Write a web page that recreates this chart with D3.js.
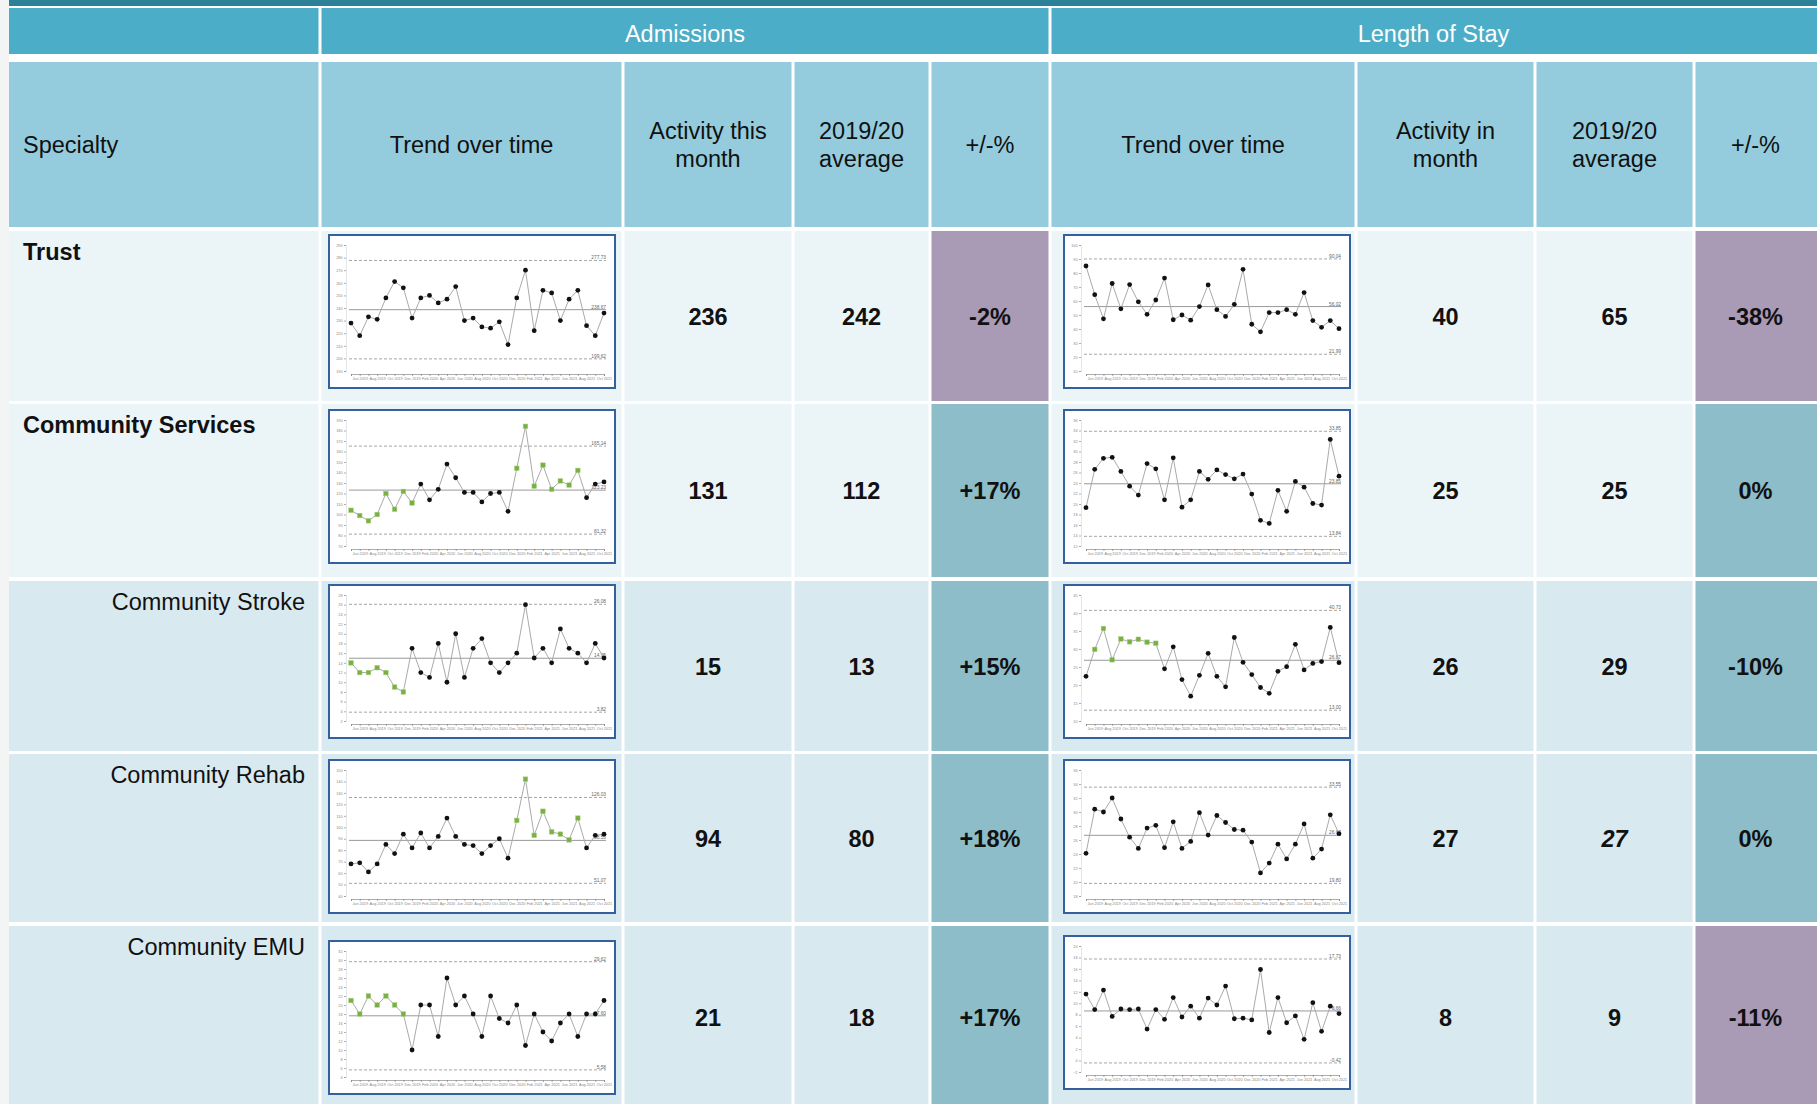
<!DOCTYPE html>
<html><head><meta charset="utf-8">
<script src="https://cdn.jsdelivr.net/npm/d3@7"></script>
<style>
html,body{margin:0;padding:0;background:#fff;}
svg{display:block;font-family:"Liberation Sans",Arial,sans-serif;}
</style></head>
<body>
<svg id="chart" width="1817" height="1104"></svg>
<script>
// ---------- DATA ----------
const months = ["May 2019","Jun 2019","Jul 2019","Aug 2019","Sep 2019","Oct 2019","Nov 2019","Dec 2019",
  "Jan 2020","Feb 2020","Mar 2020","Apr 2020","May 2020","Jun 2020","Jul 2020","Aug 2020","Sep 2020","Oct 2020",
  "Nov 2020","Dec 2020","Jan 2021","Feb 2021","Mar 2021","Apr 2021","May 2021","Jun 2021","Jul 2021","Aug 2021","Sep 2021","Oct 2021"];

const specialties = ["Trust","Community Services","Community Stroke","Community Rehab","Community EMU"];
const specialtyLevel = [0,0,1,1,1];

const admActivity = [236,131,15,94,21];
const admAverage  = [242,112,13,80,18];
const admChange   = ["-2%","+17%","+15%","+18%","+17%"];
const admStatus   = ["concern","improve","improve","improve","improve"];

const losActivity = [40,25,26,27,8];
const losAverage  = [65,25,29,27,9];
const losAverageItalic = [false,false,false,true,false];
const losChange   = ["-38%","0%","-10%","0%","-11%"];
const losStatus   = ["concern","improve","improve","improve","concern"];

// Admissions series
const trustAdm  = [228,218,233,231,248,261,256,232,248,250,244,247,257,230,232,225,224,229,211,248,270,222,254,252,230,247,254,226,218,236];
const csAdm     = [104,99,94,100,120,105,122,111,129,114,124,148,135,121,121,112,120,121,103,144,184,127,147,124,132,128,142,116,129,131];
const strokeAdm = [14,12,12,13,12,9,8,17,12,11,18,10,20,11,17,19,14,12,14,16,26,15,17,14,21,17,16,14,18,15];
const rehabAdm  = [68,69,61,68,85,77,94,82,95,82,92,108,92,85,84,77,84,90,73,106,142,93,114,96,94,89,108,82,93,94];
const emuAdm    = [21,18,22,20,22,20,18,10,20,20,13,26,20,22,18,13,22,17,16,20,11,18,14,12,16,18,13,18,18,21];

// Length of stay series
const trustLos  = [85,64.5,47.3,72.5,54.4,71.7,59.4,50.5,60.7,76.4,46.6,50,46.3,56,71.5,53.8,49,57.6,82.6,43.4,38,51.7,51.7,53.8,50.5,66,46,41.2,46,40.2];
const csLos     = [19.3,26.6,28.7,28.9,26.2,23.4,21.7,27.7,26.7,20.8,28.8,19.4,20.8,26.2,24.7,26.5,25.6,24.8,25.7,21.9,16.9,16.3,22.6,18.6,24.3,23.2,20.1,19.8,32.3,25.3];
const strokeLos = [22.4,29.9,35.7,27,32.8,32,32.7,31.9,31.6,24.5,30.6,21.5,16.9,22.7,28.8,22.4,19.5,33.2,26.3,22.9,19.3,17.7,23.8,25.1,31.3,24.2,26,26.5,36,26.2];
const rehabLos  = [24.1,30.4,30,32,29,26.4,24.8,27.7,28.1,24.9,28.6,24.8,25.8,29.9,26.7,29.5,28.5,27.5,27.4,25.7,21.3,22.7,25.4,23.3,25.4,28.3,23.4,24.7,29.6,26.9];
const emuLos    = [11.6,8.9,12.3,7.7,9,8.9,9,5.5,8.9,7.2,11,7.6,9.5,7.4,10.9,9.7,13,7.3,7.4,7.1,15.9,4.9,11,6.6,7.8,3.7,10.1,5.1,9.5,8.2];

// Special-cause (green) point indices
const trustAdmSpecial  = [];
const csAdmSpecial     = [0,1,2,3,4,5,6,7,19,20,21,22,23,24,25,26];
const strokeAdmSpecial = [0,1,2,3,4,5,6];
const rehabAdmSpecial  = [19,20,21,22,23,24,25,26];
const emuAdmSpecial    = [0,1,2,3,4,5,6];
const trustLosSpecial  = [];
const csLosSpecial     = [];
const strokeLosSpecial = [1,2,3,4,5,6,7,8];
const rehabLosSpecial  = [];
const emuLosSpecial    = [];

// Control limits [UCL, mean, LCL]
const trustAdmLimits  = [277.73,238.67,199.62];
const csAdmLimits     = [165.14,123.23,81.32];
const strokeAdmLimits = [26.08,14.95,3.82];
const rehabAdmLimits  = [126.03,88.55,51.07];
const emuAdmLimits    = [29.62,17.60,5.58];
const trustLosLimits  = [90.04,56.02,21.99];
const csLosLimits     = [33.85,23.85,13.84];
const strokeLosLimits = [40.73,26.87,13.00];
const rehabLosLimits  = [33.55,26.67,19.80];
const emuLosLimits    = [17.73,8.66,-0.42];

// Y axis tick labels [min, max, step]
const trustAdmTicks  = [190,290,10];
const csAdmTicks     = [70,190,10];
const strokeAdmTicks = [2,28,2];
const rehabAdmTicks  = [40,150,10];
const emuAdmTicks    = [4,32,2];
const trustLosTicks  = [10,100,10];
const csLosTicks     = [12,36,2];
const strokeLosTicks = [10,45,5];
const rehabLosTicks  = [18,36,2];
const emuLosTicks    = [-2,20,2];

const admSeries = [
  {values:trustAdm, special:trustAdmSpecial, limits:trustAdmLimits, ticks:trustAdmTicks},
  {values:csAdm, special:csAdmSpecial, limits:csAdmLimits, ticks:csAdmTicks},
  {values:strokeAdm, special:strokeAdmSpecial, limits:strokeAdmLimits, ticks:strokeAdmTicks},
  {values:rehabAdm, special:rehabAdmSpecial, limits:rehabAdmLimits, ticks:rehabAdmTicks},
  {values:emuAdm, special:emuAdmSpecial, limits:emuAdmLimits, ticks:emuAdmTicks}];
const losSeries = [
  {values:trustLos, special:trustLosSpecial, limits:trustLosLimits, ticks:trustLosTicks},
  {values:csLos, special:csLosSpecial, limits:csLosLimits, ticks:csLosTicks},
  {values:strokeLos, special:strokeLosSpecial, limits:strokeLosLimits, ticks:strokeLosTicks},
  {values:rehabLos, special:rehabLosSpecial, limits:rehabLosLimits, ticks:rehabLosTicks},
  {values:emuLos, special:emuLosSpecial, limits:emuLosLimits, ticks:emuLosTicks}];

// ---------- LAYOUT ----------
const svg = d3.select("#chart");
const colEdges = [9,320,623,793,930,1050,1356,1535,1694,1817];
const rows = [[231,401],[404,577],[581,751],[754,922],[926,1110]];
const chartTopOff = [4,6,4,6,15];
const chartTopOffLos = [4,6,4,6,10];
const C = {
  strip:"#2C8199", head1:"#4BADC7", head2:"#94CCDE",
  rowL0:"#EBF4F7", rowL1:"#D9E9F0", concern:"#A99AB6", improve:"#8DBDC8",
  text:"#111111"
};
const FONT = 23.5;

svg.append("rect").attr("x",0).attr("y",0).attr("width",1817).attr("height",1104).attr("fill","#ffffff");
svg.append("rect").attr("x",0).attr("y",0).attr("width",9).attr("height",1104).attr("fill","#F3F4F4");
svg.append("rect").attr("x",9).attr("y",0).attr("width",1808).attr("height",6).attr("fill",C.strip);

const gap = 1.5;
function cell(x0,x1,y0,y1,fill){
  svg.append("rect").attr("x",x0+(x0>9?gap:0)).attr("y",y0)
    .attr("width",x1-x0-(x0>9?gap:0)-(x1<1817?gap:0)).attr("height",y1-y0).attr("fill",fill);
}
// Header row 1
const h1 = [[0,1,""],[1,5,"Admissions"],[5,9,"Length of Stay"]];
h1.forEach(([a,b,t])=>{
  cell(colEdges[a],colEdges[b],8,54,C.head1);
  svg.append("text").attr("x",(colEdges[a]+colEdges[b])/2).attr("y",42)
    .attr("text-anchor","middle").attr("fill","#fff").attr("font-size",FONT).text(t);
});
// Header row 2
const h2 = [["Specialty"],["Trend over time"],["Activity this","month"],["2019/20","average"],["+/-%"],
            ["Trend over time"],["Activity in","month"],["2019/20","average"],["+/-%"]];
h2.forEach((lines,i)=>{
  cell(colEdges[i],colEdges[i+1],62,227,C.head2);
  const cx = i===0 ? colEdges[0]+14 : (colEdges[i]+colEdges[i+1])/2;
  const t = svg.append("text").attr("text-anchor", i===0?"start":"middle")
    .attr("fill",C.text).attr("font-size",FONT);
  lines.forEach((l,k)=>{
    const y = 145 + 8 + (k - (lines.length-1)/2)*28;
    t.append("tspan").attr("x",cx).attr("y",y).text(l);
  });
});

// Data rows
specialties.forEach((name,r)=>{
  const [y0,y1] = rows[r];
  const bg = specialtyLevel[r]===0 ? C.rowL0 : C.rowL1;
  for(let c=0;c<9;c++){
    let fill = bg;
    if(c===4) fill = C[admStatus[r]];
    if(c===8) fill = C[losStatus[r]];
    cell(colEdges[c],colEdges[c+1],y0,y1,fill);
  }
  svg.append("text")
    .attr("x", specialtyLevel[r]===0 ? 23 : 305)
    .attr("y", y0+29)
    .attr("text-anchor", specialtyLevel[r]===0 ? "start":"end")
    .attr("font-weight", specialtyLevel[r]===0 ? "bold":"normal")
    .attr("font-size",FONT).attr("fill",C.text).text(name);
  const cy = (y0 + Math.min(y1,1108))/2 + 8.5;
  const vals = [[2,admActivity[r],false],[3,admAverage[r],false],[4,admChange[r],false],
                [6,losActivity[r],false],[7,losAverage[r],losAverageItalic[r]],[8,losChange[r],false]];
  vals.forEach(([c,v,it])=>{
    svg.append("text").attr("x",(colEdges[c]+colEdges[c+1])/2).attr("y",cy)
      .attr("text-anchor","middle").attr("font-weight","bold").attr("font-size",FONT)
      .attr("font-style", it?"italic":"normal").attr("fill",C.text).text(v);
  });
  drawChart(colEdges[1]+9, y0+chartTopOff[r], admSeries[r]);
  drawChart(colEdges[5]+14, y0+chartTopOffLos[r], losSeries[r]);
});

function drawChart(bx,by,s){
  const W=286,H=153;
  const g = svg.append("g").attr("transform",`translate(${bx},${by})`);
  g.append("rect").attr("x",0).attr("y",0).attr("width",W).attr("height",H)
    .attr("fill","#fff").attr("stroke","#35609E").attr("stroke-width",2);
  const [tmin,tmax,tstep] = s.ticks;
  const x = d3.scalePoint().domain(months).range([22,275]);
  const y = d3.scaleLinear().domain([tmin,tmax]).range([136,10]);
  const tickVals = d3.range(tmin, tmax+tstep/2, tstep);
  const ya = g.append("g").attr("transform","translate(17,0)")
    .call(d3.axisLeft(y).tickValues(tickVals).tickSize(2).tickPadding(1.5));
  ya.select(".domain").attr("stroke","#ccc").attr("stroke-width",0.5);
  ya.selectAll(".tick line").attr("stroke","#777").attr("stroke-width",0.6);
  ya.selectAll("text").attr("font-size",3.8).attr("fill","#888").attr("font-family","Liberation Sans, Arial");
  const xa = g.append("g").attr("transform","translate(0,139)")
    .call(d3.axisBottom(x).tickSize(2).tickPadding(1.5).tickFormat((d,i)=> i%2===1 ? d : ""));
  xa.select(".domain").attr("stroke","#777").attr("stroke-width",0.6);
  xa.selectAll(".tick line").attr("stroke","#777").attr("stroke-width",0.6);
  xa.selectAll("text").attr("font-size",3.8).attr("fill","#888").attr("font-family","Liberation Sans, Arial");
  const [ucl,mean,lcl] = s.limits;
  [[ucl,"3,2"],[lcl,"3,2"],[mean,null]].forEach(([v,dash])=>{
    g.append("line").attr("x1",20).attr("x2",277).attr("y1",y(v)).attr("y2",y(v))
      .attr("stroke", dash?"#a6a6a6":"#999").attr("stroke-width", 1)
      .attr("stroke-dasharray", dash);
    g.append("text").attr("x",277).attr("y",y(v)-1).attr("text-anchor","end")
      .attr("font-size",4.8).attr("fill","#666").text(v.toFixed(2));
  });
  g.append("path").datum(s.values)
    .attr("d", d3.line().x((d,i)=>x(months[i])).y(d=>y(d)))
    .attr("fill","none").attr("stroke","#aaaaaa").attr("stroke-width",1);
  const sp = new Set(s.special);
  s.values.forEach((v,i)=>{
    if(sp.has(i)){
      g.append("rect").attr("x",x(months[i])-2.3).attr("y",y(v)-2.3).attr("width",4.6).attr("height",4.6)
        .attr("fill","#79B043").attr("stroke","#a9cf80").attr("stroke-width",0.5);
    } else {
      g.append("circle").attr("cx",x(months[i])).attr("cy",y(v)).attr("r",2.4).attr("fill","#111");
    }
  });
}
</script>
</body></html>
